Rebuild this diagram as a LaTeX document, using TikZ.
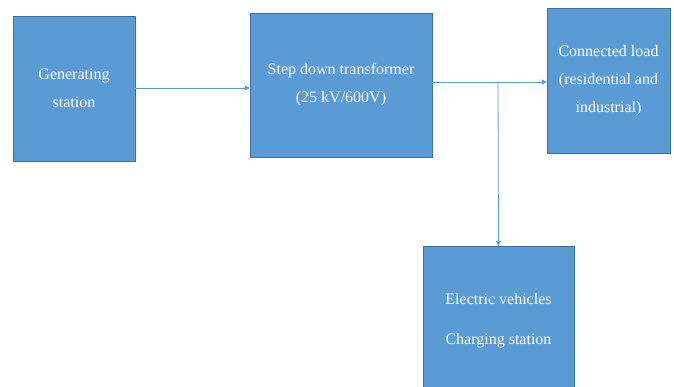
\documentclass[tikz,border=0pt]{standalone}
\usepackage{fontspec}
\setmainfont{Liberation Serif}
\usetikzlibrary{arrows.meta}
\definecolor{boxblue}{HTML}{5B9BD5}
\definecolor{boxedge}{HTML}{41719C}
\tikzset{
  blockbox/.style={draw=boxedge, fill=boxblue, text=white, align=center, font=\fontsize{16}{28}\selectfont, inner sep=0pt},
  feed/.style={draw=boxblue, thick, -{Triangle[length=5pt,width=5pt]}}
}
\begin{document}
\begin{tikzpicture}[x=1pt,y=-1pt]
    \useasboundingbox (0,0) rectangle (674,386);
    \node[blockbox, minimum width=122pt, minimum height=145pt] (gen) at (74,88.5) {Generating\\station};
    \node[blockbox, minimum width=182pt, minimum height=144pt] (trafo) at (341,85) {Step down transformer\\(25 kV/600V)};
    \node[blockbox, minimum width=123pt, minimum height=145pt] (load) at (608.5,80.5) {Connected load\\(residential and\\industrial)};
    \node[blockbox, minimum width=151pt, minimum height=150pt, font=\fontsize{16}{40}\selectfont] (ev) at (498.5,321) {Electric vehicles\\Charging station};
    \coordinate (split) at (498,82);
    \draw[feed] (gen.east |- 0,88) -- (trafo.west |- 0,88);
    \draw[feed] (trafo.east |- 0,82) -- (load.west |- 0,82);
    \draw[feed] (split) -- (ev.north);
  \end{tikzpicture}
\end{document}
